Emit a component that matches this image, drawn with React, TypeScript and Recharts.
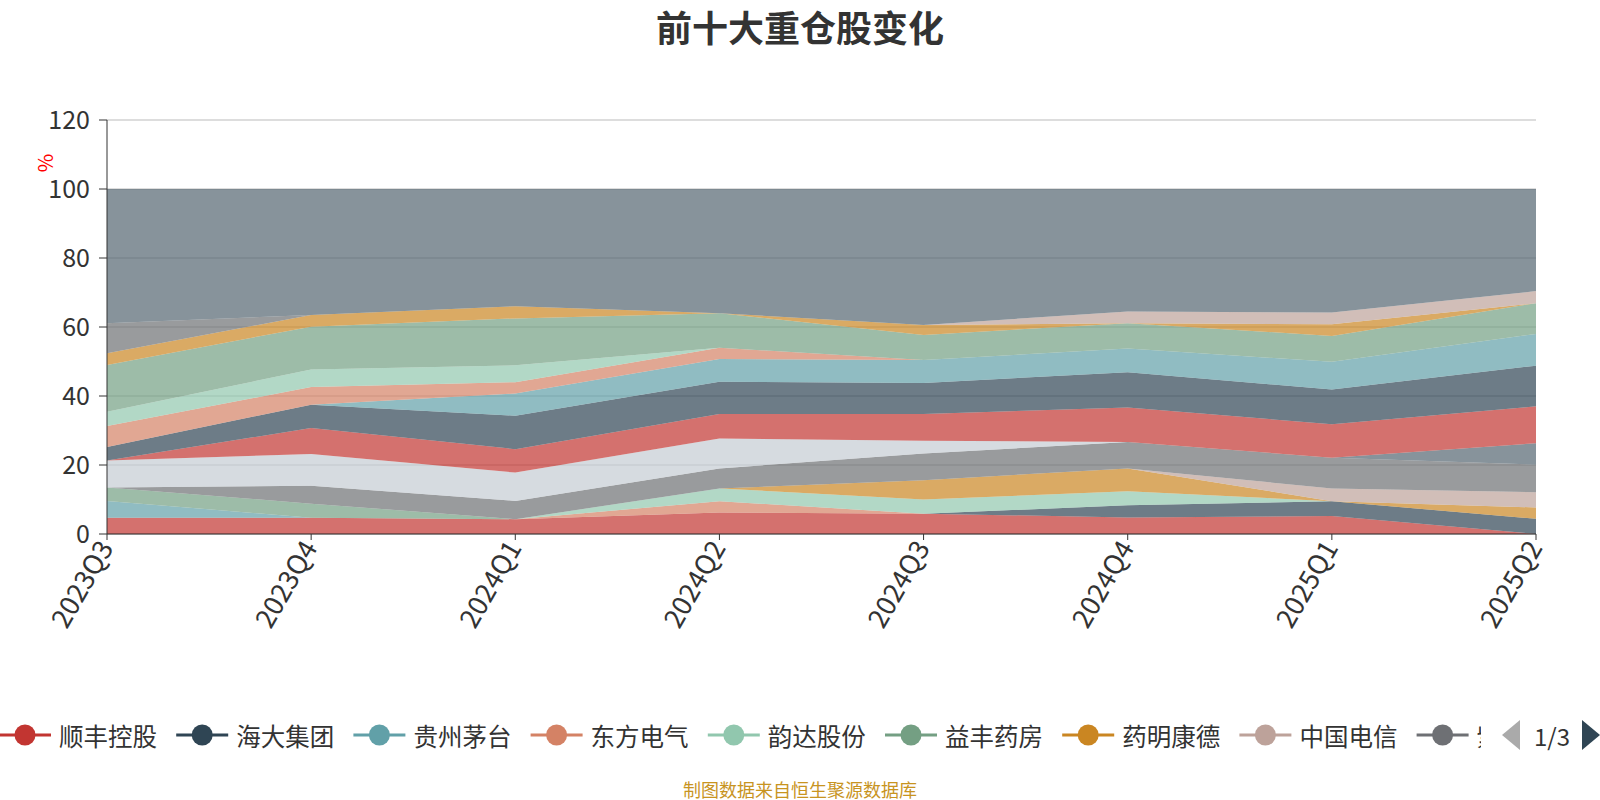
import React from 'react';
import { AreaChart, Area, XAxis, YAxis, CartesianGrid } from 'recharts';

const quarters = ['2023Q3', '2023Q4', '2024Q1', '2024Q2', '2024Q3', '2024Q4', '2025Q1', '2025Q2'];

const seriesNames = [
  '顺丰控股', '海大集团', '贵州茅台', '东方电气', '韵达股份', '益丰药房', '药明康德', '中国电信',
  '紫金矿业', '中国移动', '美的集团', '宁德时代', '招商银行', '长江电力', '迈瑞医疗', '万华化学',
  '伊利股份', '五粮液', '泸州老窖', '中国海油', '其他',
];

const palette = ['#c23531', '#2f4554', '#61a0a8', '#d48265', '#91c7ae', '#749f83', '#ca8622', '#bda29a', '#6e7074', '#546570', '#c4ccd3'];

const s00 = [4.7, 4.7, 4.3, 6.2, 5.9, 4.8, 5.2, 0];
const s01 = [0, 0, 0, 0, 0, 3.5, 4.3, 4.4];
const s02 = [4.9, 0, 0, 0, 0, 0, 0, 0];
const s03 = [0, 0, 0, 3.3, 0, 0, 0, 0];
const s04 = [0, 0, 0, 3.7, 4.1, 4.1, 0, 0];
const s05 = [3.9, 4.1, 0, 0, 0, 0, 0, 0];
const s06 = [0, 0, 0, 0, 5.6, 6.6, 0, 3.3];
const s07 = [0, 0, 0, 0, 0, 0, 3.7, 4.4];
const s08 = [0, 5.2, 5.3, 5.8, 7.7, 7.7, 8.9, 8.0];
const s09 = [0, 0, 0, 0, 0, 0, 0, 6.2];
const s10 = [7.8, 9.2, 8.2, 8.7, 3.7, 0, 0, 0];
const s11 = [0, 7.5, 6.8, 7.1, 7.8, 10.0, 9.7, 10.7];
const s12 = [3.9, 6.8, 9.7, 9.3, 9.0, 10.2, 10.1, 11.8];
const s13 = [0, 0, 6.4, 6.6, 6.6, 6.9, 8.0, 9.2];
const s14 = [6.1, 5.1, 3.3, 3.3, 0, 0, 0, 0];
const s15 = [4.1, 5.1, 4.9, 0, 0, 0, 0, 0];
const s16 = [13.6, 12.4, 13.6, 10.0, 7.3, 7.3, 7.5, 8.9];
const s17 = [3.4, 3.4, 3.5, 0, 2.9, 0, 3.4, 0];
const s18 = [0, 0, 0, 0, 0, 3.4, 3.4, 3.5];
const s19 = [8.7, 0, 0, 0, 0, 0, 0, 0];
const others = [38.9, 36.5, 34.0, 36.0, 39.4, 35.5, 35.8, 29.6];

const seriesValues = [s00, s01, s02, s03, s04, s05, s06, s07, s08, s09, s10, s11, s12, s13, s14, s15, s16, s17, s18, s19, others];

const yTicks = [0, 20, 40, 60, 80, 100, 120];

const data = quarters.map((q, i) => {
  const row: Record<string, any> = { quarter: q };
  seriesValues.forEach((vals, k) => {
    row['s' + k] = vals[i];
  });
  return row;
});

const FONT = '"Noto Sans CJK SC", "Noto Sans", sans-serif';

const XTick = (props: any) => {
  const { x, y, payload } = props;
  return (
    <g transform={`translate(${x - 1},${y + 1})`}>
      <text x={0} y={0} dy="0.35em" textAnchor="end" transform="rotate(-60)" fontSize={27} fill="#333" fontFamily={FONT}>
        {payload.value}
      </text>
    </g>
  );
};

const PercentLabel = (props: any) => {
  const vb = props.viewBox || { x: 0, y: 0 };
  return (
    <text
      x={0}
      y={0}
      transform={`translate(${vb.x - 3},${vb.y + 43}) rotate(-90)`}
      textAnchor="middle"
      dominantBaseline="central"
      fontSize={20}
      fill="#ff0000"
      fontFamily={FONT}
    >
      %
    </text>
  );
};

const legendItems = seriesNames.slice(0, 9);

const LegendBar = () => (
  <svg width={1600} height={60} style={{ position: 'absolute', left: 0, top: 705 }}>
    <defs>
      <clipPath id="lgclip">
        <rect x={0} y={0} width={1481} height={60} />
      </clipPath>
    </defs>
    <g clipPath="url(#lgclip)">
      {legendItems.map((name, i) => {
        const x0 = -1 + i * 177.2;
        const c = palette[i % palette.length];
        const shown = i === legendItems.length - 1 ? name.slice(0, 1) : name;
        return (
          <g key={name}>
            <line x1={x0} y1={30} x2={x0 + 52} y2={30} stroke={c} strokeWidth={3} />
            <circle cx={x0 + 26} cy={30} r={10.5} fill={c} />
            <text x={x0 + 60} y={30} dominantBaseline="central" fontSize={24.5} fill="#333" fontFamily={FONT}>
              {shown}
            </text>
          </g>
        );
      })}
    </g>
    <path d="M1520,15 L1502,30 L1520,45 Z" fill="#aaa" />
    <text x={1552} y={30} textAnchor="middle" dominantBaseline="central" fontSize={24} fill="#333" fontFamily={FONT}>
      1/3
    </text>
    <path d="M1582,15 L1600,30 L1582,45 Z" fill="#2f4554" />
  </svg>
);

export default function App() {
  return (
    <div style={{ position: 'absolute', left: 0, top: 0, width: 1600, height: 800, background: '#fff', fontFamily: FONT }}>
      <div
        style={{
          position: 'absolute',
          left: 0,
          top: 3,
          width: 1600,
          textAlign: 'center',
          fontSize: 36,
          fontWeight: 'bold',
          color: '#333',
          lineHeight: '46px',
        }}
      >
        前十大重仓股变化
      </div>
      <AreaChart width={1600} height={800} data={data} margin={{ top: 120, right: 64, bottom: 186, left: 47 }}>
        <CartesianGrid vertical={false} stroke="#bbb" />
        <XAxis
          dataKey="quarter"
          interval={0}
          height={80}
          tick={<XTick />}
          tickSize={6}
          axisLine={{ stroke: '#333' }}
          tickLine={{ stroke: '#333' }}
        />
        <YAxis
          width={60}
          domain={[0, 120]}
          ticks={yTicks}
          tickSize={8}
          tickMargin={9}
          axisLine={{ stroke: '#333' }}
          tickLine={{ stroke: '#333' }}
          tick={{ fontSize: 25, fill: '#333', fontFamily: FONT }}
          label={<PercentLabel />}
        />
        {seriesNames.map((name, k) => (
          <Area
            key={name}
            type="linear"
            dataKey={'s' + k}
            name={name}
            stackId="a"
            stroke="none"
            fill={palette[k % palette.length]}
            fillOpacity={0.7}
            dot={false}
            activeDot={false}
            isAnimationActive={false}
          />
        ))}
      </AreaChart>
      <LegendBar />
      <div
        style={{
          position: 'absolute',
          left: 0,
          top: 777,
          width: 1600,
          textAlign: 'center',
          fontSize: 18,
          color: '#c8941f',
          lineHeight: '24px',
        }}
      >
        制图数据来自恒生聚源数据库
      </div>
    </div>
  );
}
